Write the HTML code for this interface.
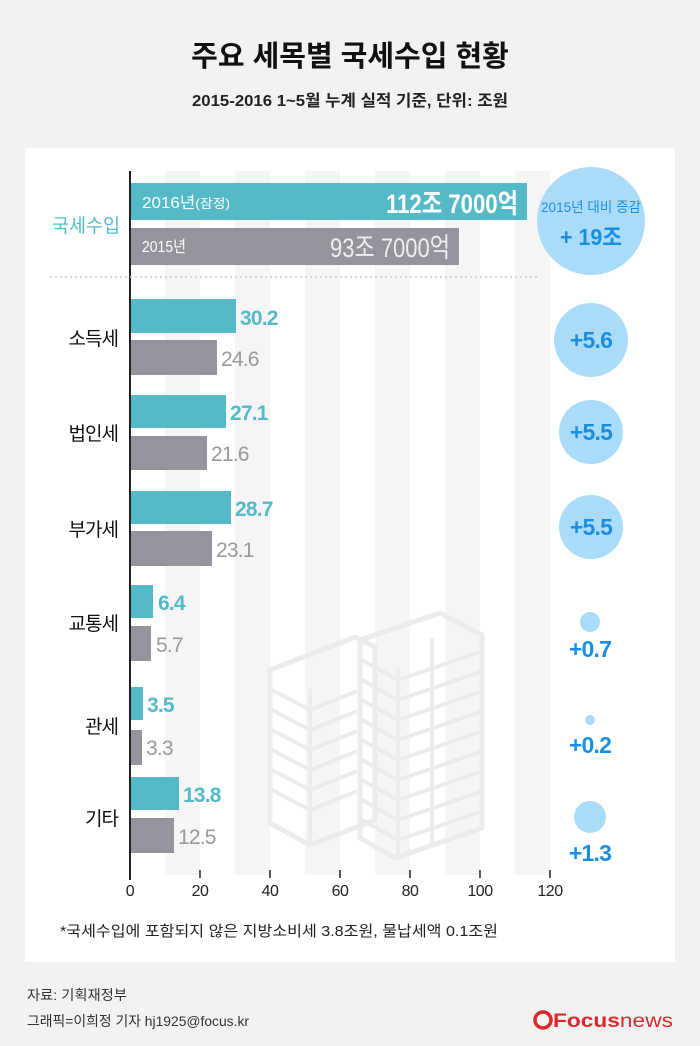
<!DOCTYPE html>
<html><head><meta charset="utf-8"><style>
body{margin:0;background:#f2f2f2;}
svg{display:block;}
text{font-family:"Liberation Sans Narrow","Liberation Sans","Noto Sans CJK KR",sans-serif;}
.k{font-family:"Liberation Sans","Noto Sans CJK KR",sans-serif;}
</style></head><body>
<svg width="700" height="1046" viewBox="0 0 700 1046" xmlns="http://www.w3.org/2000/svg">
<rect width="700" height="1046" fill="#f2f2f2"/>
<text x="350" y="66" text-anchor="middle" font-size="29" font-weight="bold" fill="#111" class="k">주요 세목별 국세수입 현황</text>
<text x="350" y="106" text-anchor="middle" font-size="16" fill="#222" class="k" font-weight="bold" textLength="316" lengthAdjust="spacingAndGlyphs">2015-2016 1~5월 누계 실적 기준, 단위: 조원</text>
<rect x="25" y="148" width="650" height="814" fill="#fff"/>
<g fill="#f5f5f5">
<rect x="165" y="171" width="35" height="704"/><rect x="235" y="171" width="35" height="704"/>
<rect x="305" y="171" width="35" height="704"/><rect x="375" y="171" width="35" height="704"/>
<rect x="445" y="171" width="35" height="704"/><rect x="515" y="171" width="35" height="704"/>
</g>
<!-- buildings -->
<g fill="none" stroke="#ebebeb" stroke-width="5" stroke-linejoin="round" stroke-linecap="round">
<path d="M270 670 L355 637 L375 647 L375 820 L310 845 L270 823 Z"/>
<path d="M360 640 L440 613 L482 635 L482 828 L395 858 L360 838 Z"/>
<g stroke-width="4">
<path d="M272 690 L310 710 L355 692"/><path d="M272 710 L310 730 L355 712"/><path d="M272 730 L310 750 L355 732"/>
<path d="M272 750 L310 770 L355 752"/><path d="M272 770 L310 790 L355 772"/><path d="M272 790 L310 810 L355 792"/>
<path d="M362 660 L398 680 L480 652"/><path d="M362 680 L398 700 L480 672"/><path d="M362 700 L398 720 L480 692"/>
<path d="M362 720 L398 740 L480 712"/><path d="M362 740 L398 760 L480 732"/><path d="M362 760 L398 780 L480 752"/>
<path d="M362 780 L398 800 L480 772"/><path d="M362 800 L398 820 L480 792"/><path d="M362 820 L398 840 L480 812"/>
<path d="M310 690 L310 845"/><path d="M432 640 L432 842"/><path d="M398 670 L398 858"/>
</g></g>
<!-- axis -->
<line x1="130" y1="171" x2="130" y2="880" stroke="#222" stroke-width="2"/>
<line x1="50" y1="277" x2="540" y2="277" stroke="#ccc" stroke-width="1.5" stroke-dasharray="2,3"/>
<!-- total -->
<rect x="131" y="183" width="396" height="37" fill="#55bac7"/>
<rect x="131" y="228" width="328" height="37" fill="#95939c"/>
<text x="142" y="208" font-size="16" fill="#fff" textLength="88" lengthAdjust="spacingAndGlyphs">2016년<tspan font-size="13">(잠정)</tspan></text>
<text x="518" y="213" text-anchor="end" font-size="27" font-weight="bold" fill="#fff" textLength="132" lengthAdjust="spacingAndGlyphs">112조 7000억</text>
<text x="142" y="252" font-size="16" fill="#fff" textLength="44" lengthAdjust="spacingAndGlyphs">2015년</text>
<text x="450" y="257" text-anchor="end" font-size="27" fill="#eee" textLength="120" lengthAdjust="spacingAndGlyphs">93조 7000억</text>
<text x="120" y="232" text-anchor="end" font-size="19" fill="#55bac7" textLength="68" lengthAdjust="spacingAndGlyphs">국세수입</text>
<circle cx="591" cy="221" r="54" fill="#aadcfa"/>
<text x="591" y="212" text-anchor="middle" font-size="14" fill="#1a8fe0" textLength="100" lengthAdjust="spacingAndGlyphs">2015년 대비 증감</text>
<text x="591" y="245" text-anchor="middle" font-size="23" font-weight="bold" fill="#1a8fe0" textLength="62" lengthAdjust="spacingAndGlyphs">+ 19조</text>
<!-- categories -->
<g font-size="21" letter-spacing="-0.8">
<rect x="131" y="299" width="105" height="34" fill="#55bac7"/><rect x="131" y="340" width="86" height="35" fill="#95939c"/>
<text x="240" y="325" fill="#55bac7" font-weight="bold">30.2</text><text x="221" y="366" fill="#999">24.6</text>
<text x="118" y="345" text-anchor="end" font-size="19" fill="#111" letter-spacing="-1">소득세</text>
<circle cx="591" cy="340" r="37" fill="#aadcfa"/><text x="591" y="348" text-anchor="middle" font-size="23" font-weight="bold" fill="#1a8fe0">+5.6</text>

<rect x="131" y="395" width="95" height="33" fill="#55bac7"/><rect x="131" y="436" width="76" height="34" fill="#95939c"/>
<text x="230" y="420" fill="#55bac7" font-weight="bold">27.1</text><text x="211" y="461" fill="#999">21.6</text>
<text x="118" y="440" text-anchor="end" font-size="19" fill="#111" letter-spacing="-1">법인세</text>
<circle cx="591" cy="432" r="32" fill="#aadcfa"/><text x="591" y="440" text-anchor="middle" font-size="23" font-weight="bold" fill="#1a8fe0">+5.5</text>

<rect x="131" y="491" width="100" height="33" fill="#55bac7"/><rect x="131" y="531" width="81" height="35" fill="#95939c"/>
<text x="235" y="516" fill="#55bac7" font-weight="bold">28.7</text><text x="216" y="557" fill="#999">23.1</text>
<text x="118" y="536" text-anchor="end" font-size="19" fill="#111" letter-spacing="-1">부가세</text>
<circle cx="591" cy="527" r="32" fill="#aadcfa"/><text x="591" y="535" text-anchor="middle" font-size="23" font-weight="bold" fill="#1a8fe0">+5.5</text>

<rect x="131" y="585" width="22" height="33" fill="#55bac7"/><rect x="131" y="626" width="20" height="35" fill="#95939c"/>
<text x="158" y="610" fill="#55bac7" font-weight="bold">6.4</text><text x="156" y="652" fill="#999">5.7</text>
<text x="118" y="630" text-anchor="end" font-size="19" fill="#111" letter-spacing="-1">교통세</text>
<circle cx="590" cy="622" r="10" fill="#aadcfa"/><text x="590" y="657" text-anchor="middle" font-size="23" font-weight="bold" fill="#1a8fe0">+0.7</text>

<rect x="131" y="687" width="12" height="33" fill="#55bac7"/><rect x="131" y="730" width="11" height="35" fill="#95939c"/>
<text x="147" y="712" fill="#55bac7" font-weight="bold">3.5</text><text x="146" y="755" fill="#999">3.3</text>
<text x="118" y="733" text-anchor="end" font-size="19" fill="#111" letter-spacing="-1">관세</text>
<circle cx="590" cy="720" r="5" fill="#aadcfa"/><text x="590" y="753" text-anchor="middle" font-size="23" font-weight="bold" fill="#1a8fe0">+0.2</text>

<rect x="131" y="777" width="48" height="33" fill="#55bac7"/><rect x="131" y="818" width="43" height="35" fill="#95939c"/>
<text x="183" y="802" fill="#55bac7" font-weight="bold">13.8</text><text x="178" y="844" fill="#999">12.5</text>
<text x="118" y="825" text-anchor="end" font-size="19" fill="#111" letter-spacing="-1">기타</text>
<circle cx="590" cy="817" r="16" fill="#aadcfa"/><text x="590" y="861" text-anchor="middle" font-size="23" font-weight="bold" fill="#1a8fe0">+1.3</text>
</g>
<!-- ticks -->
<g stroke="#222" stroke-width="1.5">
<line x1="200" y1="870" x2="200" y2="878"/><line x1="270" y1="870" x2="270" y2="878"/><line x1="340" y1="870" x2="340" y2="878"/>
<line x1="410" y1="870" x2="410" y2="878"/><line x1="480" y1="870" x2="480" y2="878"/><line x1="550" y1="870" x2="550" y2="878"/>
</g>
<g font-size="16" fill="#222" text-anchor="middle" letter-spacing="-0.5">
<text x="130" y="896">0</text><text x="200" y="896">20</text><text x="270" y="896">40</text><text x="340" y="896">60</text>
<text x="410" y="896">80</text><text x="480" y="896">100</text><text x="550" y="896">120</text>
</g>
<text x="60" y="936" font-size="15" fill="#222" class="k" textLength="438" lengthAdjust="spacingAndGlyphs">*국세수입에 포함되지 않은 지방소비세 3.8조원, 물납세액 0.1조원</text>
<text x="27" y="1000" font-size="14" fill="#333" class="k" textLength="100" lengthAdjust="spacingAndGlyphs">자료: 기획재정부</text>
<text x="27" y="1026" font-size="14" fill="#333" class="k" textLength="222" lengthAdjust="spacingAndGlyphs">그래픽=이희정 기자 hj1925@focus.kr</text>
<circle cx="543" cy="1020" r="8" fill="none" stroke="#e0262a" stroke-width="3.5"/>
<text x="553" y="1027" font-size="19" font-weight="bold" fill="#e0262a" class="k" textLength="120" lengthAdjust="spacingAndGlyphs">Focus<tspan fill="#e0262a" font-weight="normal">news</tspan></text>
</svg>
</body></html>
